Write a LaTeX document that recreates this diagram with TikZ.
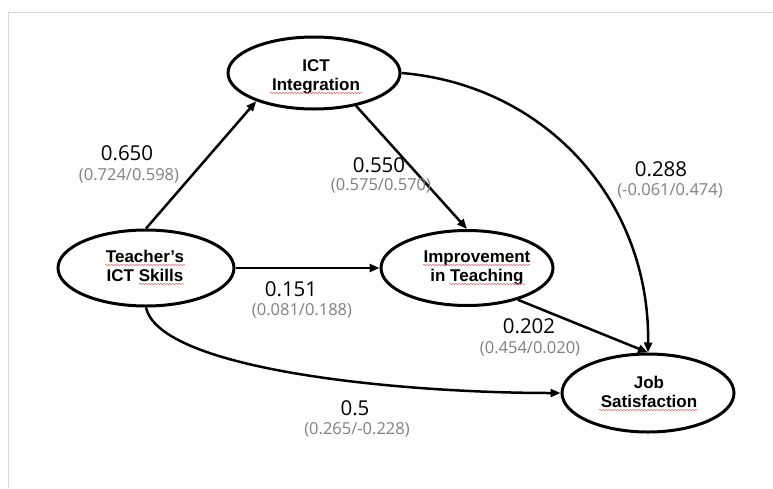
\documentclass[tikz,border=0pt]{standalone}
\usepackage{fontspec}
\setmainfont{Liberation Sans}
\newfontfamily\numfont{Open Sans}
\usetikzlibrary{shapes.geometric,arrows.meta,decorations.pathmorphing}
\definecolor{framegrey}{HTML}{D9D9D9}
\definecolor{coefgrey}{HTML}{7F7F7F}
\definecolor{spellred}{HTML}{E07070}
\begin{document}
\begin{tikzpicture}[x=1pt,y=-1pt,
  construct/.style={ellipse, draw, line width=3pt, inner sep=0pt},
  name text/.style={inner sep=0pt, align=center, anchor=south, text depth=0pt,
    font=\fontsize{17}{18.5}\selectfont\bfseries},
  effect/.style={line width=2.5pt, -{Triangle[length=10pt,width=8pt]}},
  coef/.style={font=\numfont\fontsize{20.5}{24}\selectfont, inner sep=0pt},
  ci/.style={font=\numfont\fontsize{16.5}{20}\selectfont, text=coefgrey, inner sep=0pt},
  spell/.style={spellred, line width=0.6pt, decorate,
    decoration={snake, segment length=3pt, amplitude=0.7pt}}]
\useasboundingbox (0,0) rectangle (773,488);
% frame
\draw[framegrey, line width=1.5pt] (8.5,488) -- (8.5,12.5) -- (773,12.5);

% constructs
\node[construct, minimum width=172pt, minimum height=72pt] (ict) at (314,73) {};
\node[construct, minimum width=176pt, minimum height=76pt] (teach) at (146,268) {};
\node[construct, minimum width=172pt, minimum height=75pt] (imp) at (467,268) {};
\node[construct, minimum width=172pt, minimum height=78pt] (job) at (648,393) {};

% construct names (last baseline given)
\node[name text] (ictT) at (316,90.5) {ICT\\Integration};
\node[name text] (teachT) at (145,281.5) {Teacher’s\\ICT Skills};
\node[name text] (impT) at (477,281.5) {Improvement\\in Teaching};
\node[name text] (jobT) at (649,407.5) {Job\\Satisfaction};

% paths
\draw[effect] (teach.north) -- (ict.-154);
\draw[effect] (ict.-38) -- (imp.north);
\draw[effect] (teach.east) -- (imp.west);
\draw[effect] (imp.-32) -- (job.north);
\draw[effect] (ict.east) .. controls (545,85) and (650,200) .. (job.north);
\draw[effect] (teach.south) .. controls (160,370) and (400,393) .. (job.west);

% coefficients
\node[coef] (c1) at (127,153) {0.650};
\node[ci] (c1ci) at (129,176) {(0.724/0.598)};
\node[coef] (c2) at (379,165) {0.550};
\node[ci] (c2ci) at (381,186) {(0.575/0.570)};
\node[coef] (c3) at (661,169) {0.288};
\node[ci] (c3ci) at (670,191) {(-0.061/0.474)};
\node[coef] (c4) at (291,289) {0.151};
\node[ci] (c4ci) at (302,311) {(0.081/0.188)};
\node[coef] (c5) at (529,326) {0.202};
\node[ci] (c5ci) at (530,349) {(0.454/0.020)};
\node[coef] (c6) at (355,408) {0.5};
\node[ci] (c6ci) at (357,430) {(0.265/-0.228)};

% proofing marks under words
\draw[spell] (270,93) -- (362,93);
\draw[spell] (105,265) -- (185,265);
\draw[spell] (139,284) -- (184,284);
\draw[spell] (423,265) -- (530,265);
\draw[spell] (449,284) -- (525,284);
\draw[spell] (599,410) -- (698,410);
\end{tikzpicture}
\end{document}
